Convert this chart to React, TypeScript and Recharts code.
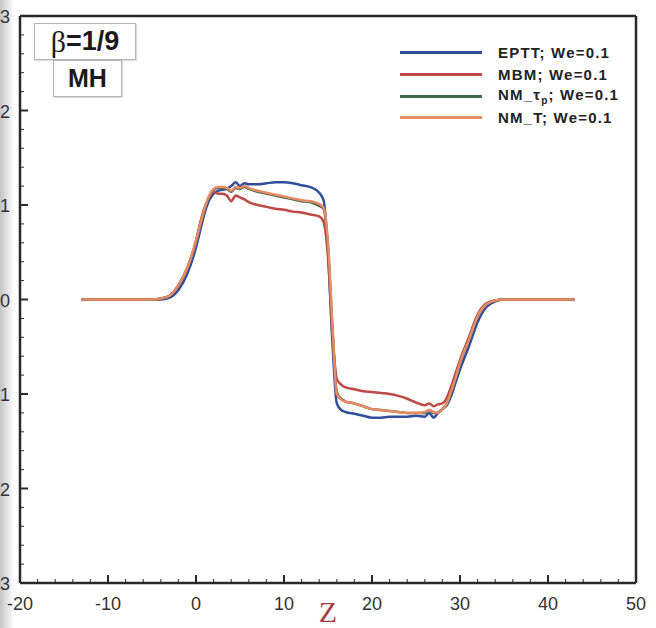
import React from 'react';
import {
  LineChart,
  Line,
  XAxis,
  YAxis,
  ReferenceLine
} from 'recharts';

// z positions shared by all four curves
const zValues = [
  -13, -8, -5, -4, -3, -2, -1, 0, 0.5, 1, 1.5, 2, 2.5, 3, 3.5, 4, 4.5, 5, 5.5, 6,
  7, 8, 9, 10, 11, 12, 13, 14, 14.5, 15, 15.5, 16, 16.5, 17, 18, 19, 20, 21, 22,
  23, 24, 25, 26, 26.5, 27, 27.5, 28, 28.5, 29, 29.5, 30, 31, 32, 33, 34, 35, 37, 43
];

const epttValues = [
  0, 0, 0, 0, 0.02, 0.1, 0.27, 0.55, 0.74, 0.92, 1.05, 1.12, 1.15, 1.16, 1.17, 1.2,
  1.24, 1.2, 1.23, 1.22, 1.22, 1.23, 1.24, 1.24, 1.23, 1.21, 1.19, 1.13, 1.05, 0.5,
  -0.45, -1.1, -1.17, -1.19, -1.21, -1.23, -1.25, -1.25, -1.24, -1.24, -1.24, -1.23,
  -1.24, -1.2, -1.25, -1.2, -1.16, -1.12, -1.02, -0.88, -0.74, -0.5, -0.24, -0.08,
  -0.02, 0, 0, 0
];

const mbmValues = [
  0, 0, 0, 0.01, 0.04, 0.15, 0.33, 0.62, 0.82, 0.98, 1.08, 1.14, 1.12, 1.12, 1.1,
  1.04, 1.1, 1.08, 1.06, 1.03, 1.0, 0.98, 0.96, 0.95, 0.93, 0.92, 0.9, 0.88, 0.82,
  0.45, -0.35, -0.84, -0.9, -0.93, -0.95, -0.97, -0.98, -0.99, -1.0, -1.02, -1.05,
  -1.09, -1.12, -1.1, -1.13, -1.11, -1.1, -1.04, -0.92, -0.78, -0.64, -0.4, -0.16,
  -0.04, -0.01, 0, 0, 0
];

const nmTauValues = [
  0, 0, 0, 0.01, 0.04, 0.15, 0.33, 0.61, 0.8, 0.96, 1.09, 1.16, 1.18, 1.18, 1.17,
  1.14, 1.18, 1.17, 1.19, 1.17, 1.14, 1.12, 1.1, 1.08, 1.06, 1.04, 1.03, 0.99, 0.96,
  0.55, -0.3, -0.98, -1.05, -1.08, -1.1, -1.13, -1.16, -1.17, -1.18, -1.19, -1.2,
  -1.2, -1.2, -1.17, -1.2, -1.2, -1.16, -1.1, -0.97, -0.83, -0.67, -0.43, -0.18,
  -0.05, -0.01, 0, 0, 0
];

const nmTValues = [
  0, 0, 0, 0.01, 0.04, 0.15, 0.33, 0.62, 0.8, 0.97, 1.1, 1.17, 1.19, 1.19, 1.18,
  1.15, 1.19, 1.18, 1.2, 1.18, 1.15, 1.13, 1.11, 1.09, 1.07, 1.05, 1.04, 1.01, 0.97,
  0.6, -0.26, -1.0, -1.06, -1.08, -1.1, -1.13, -1.16, -1.17, -1.18, -1.19, -1.2,
  -1.2, -1.19, -1.17, -1.19, -1.2, -1.16, -1.1, -0.97, -0.83, -0.67, -0.43, -0.18,
  -0.05, -0.01, 0, 0, 0
];

const xMajorTicks = [-20, -10, 0, 10, 20, 30, 40, 50];
const yMajorTicks = [-3, -2, -1, 0, 1, 2, 3];

const SERIES = [
  { key: 'eptt', name: 'EPTT', color: '#2f4f9c' },
  { key: 'mbm', name: 'MBM', color: '#bd4a45' },
  { key: 'nmTau', name: 'NM_τ', sub: 'p', color: '#3d6b4e' },
  { key: 'nmT', name: 'NM_T', color: '#e98a62' }
];

const withMinor = (majors: number[], parts: number) => {
  const out: number[] = [];
  majors.forEach((m, i) => {
    out.push(m);
    if (i < majors.length - 1) {
      const step = (majors[i + 1] - m) / parts;
      for (let k = 1; k < parts; k++) out.push(+(m + k * step).toFixed(4));
    }
  });
  return out;
};

const xTicks = withMinor(xMajorTicks, 5);
const yTicks = withMinor(yMajorTicks, 5);

const data = zValues.map((z, i) => ({
  z,
  eptt: epttValues[i],
  mbm: mbmValues[i],
  nmTau: nmTauValues[i],
  nmT: nmTValues[i]
}));

const AXIS_COLOR = '#2a2a2a';
const TICK_FONT = '"Liberation Sans", Arial, sans-serif';

const XTick = (props: any) => {
  const { x, y, payload } = props;
  const major = xMajorTicks.includes(payload.value);
  return (
    <g>
      <line x1={x} x2={x} y1={y} y2={y - (major ? 8 : 4)} stroke={AXIS_COLOR} strokeWidth={major ? 2 : 1} />
      {major && (
        <text x={x} y={y + 27} textAnchor="middle" fontSize={18} fontFamily={TICK_FONT} fill="#333">
          {payload.value}
        </text>
      )}
    </g>
  );
};

const YTick = (props: any) => {
  const { x, y, payload } = props;
  const major = yMajorTicks.includes(payload.value);
  return (
    <g>
      <line x1={x} x2={x + (major ? 8 : 4)} y1={y} y2={y} stroke={AXIS_COLOR} strokeWidth={major ? 2 : 1} />
      {major && (
        <text x={x - 10} y={y + 7} textAnchor="end" fontSize={18} fontFamily={TICK_FONT} fill="#333">
          {payload.value}
        </text>
      )}
    </g>
  );
};

const LegendBox = () => (
  <div
    style={{
      position: 'absolute', left: 400, top: 42,
      fontFamily: TICK_FONT, fontWeight: 'bold', fontSize: 15, color: '#222', letterSpacing: 1.2
    }}
  >
    {SERIES.map(s => (
      <div key={s.key} style={{ display: 'flex', alignItems: 'center', height: 21.7 }}>
        <div style={{ width: 82, height: 3, background: s.color, marginRight: 16 }} />
        <span style={{ whiteSpace: 'nowrap' }}>
          {s.name}
          {s.sub && <sub style={{ fontSize: 10 }}>{s.sub}</sub>}
          ; We=0.1
        </span>
      </div>
    ))}
  </div>
);

const boxStyle: React.CSSProperties = {
  position: 'absolute',
  border: '1px solid #b5b5b5',
  background: '#fff',
  boxShadow: '1px 1px 1px #ddd',
  fontFamily: TICK_FONT,
  fontWeight: 'bold',
  color: '#1a1a1a',
  display: 'flex',
  alignItems: 'center',
  justifyContent: 'center'
};

export default function App() {
  return (
    <div style={{ position: 'absolute', left: 0, top: 0, width: 656, height: 628, background: '#fff' }}>
      <div
        style={{
          position: 'absolute', left: 0, top: 0, width: 14, height: 628,
          background: 'linear-gradient(to right, #c4c4c4, #ffffff)'
        }}
      />
      <LineChart
        width={656}
        height={628}
        data={data}
        margin={{ top: 16, right: 20, bottom: 0, left: 0 }}
        style={{ position: 'absolute', left: 0, top: 0 }}
      >
        <XAxis
          dataKey="z"
          type="number"
          domain={[-20, 50]}
          ticks={xTicks}
          interval={0}
          tickSize={0}
          tickMargin={0}
          tickLine={false}
          height={45}
          tick={<XTick />}
          axisLine={{ stroke: AXIS_COLOR, strokeWidth: 2.5 }}
          label={{
            content: (p: any) => {
              const vb = p.viewBox;
              return (
                <text
                  x={vb.x + vb.width / 2}
                  y={vb.y + 39}
                  textAnchor="middle"
                  fontSize={30}
                  fontFamily='"Liberation Serif", "DejaVu Serif", serif'
                  fill="#a3403f"
                >
                  Z
                </text>
              );
            }
          }}
        />
        <YAxis
          type="number"
          domain={[-3, 3]}
          ticks={yTicks}
          interval={0}
          width={20}
          tickSize={0}
          tickMargin={0}
          tickLine={false}
          tick={<YTick />}
          axisLine={{ stroke: AXIS_COLOR, strokeWidth: 2.5 }}
        />
        <ReferenceLine y={3} stroke={AXIS_COLOR} strokeWidth={2.5} />
        <ReferenceLine x={50} stroke={AXIS_COLOR} strokeWidth={2.5} />
        {SERIES.map(s => (
          <Line
            key={s.key}
            dataKey={s.key}
            name={s.name}
            type="monotone"
            stroke={s.color}
            strokeWidth={2.5}
            dot={false}
            isAnimationActive={false}
          />
        ))}
      </LineChart>
      <LegendBox />
      <div style={{ ...boxStyle, left: 34, top: 23, width: 100, height: 35, fontSize: 27 }}>
        <span style={{ fontFamily: '"Liberation Serif", serif', fontWeight: 'normal', fontSize: 30 }}>β</span>
        =1/9
      </div>
      <div style={{ ...boxStyle, left: 53, top: 60, width: 67, height: 35, fontSize: 25 }}>MH</div>
    </div>
  );
}
